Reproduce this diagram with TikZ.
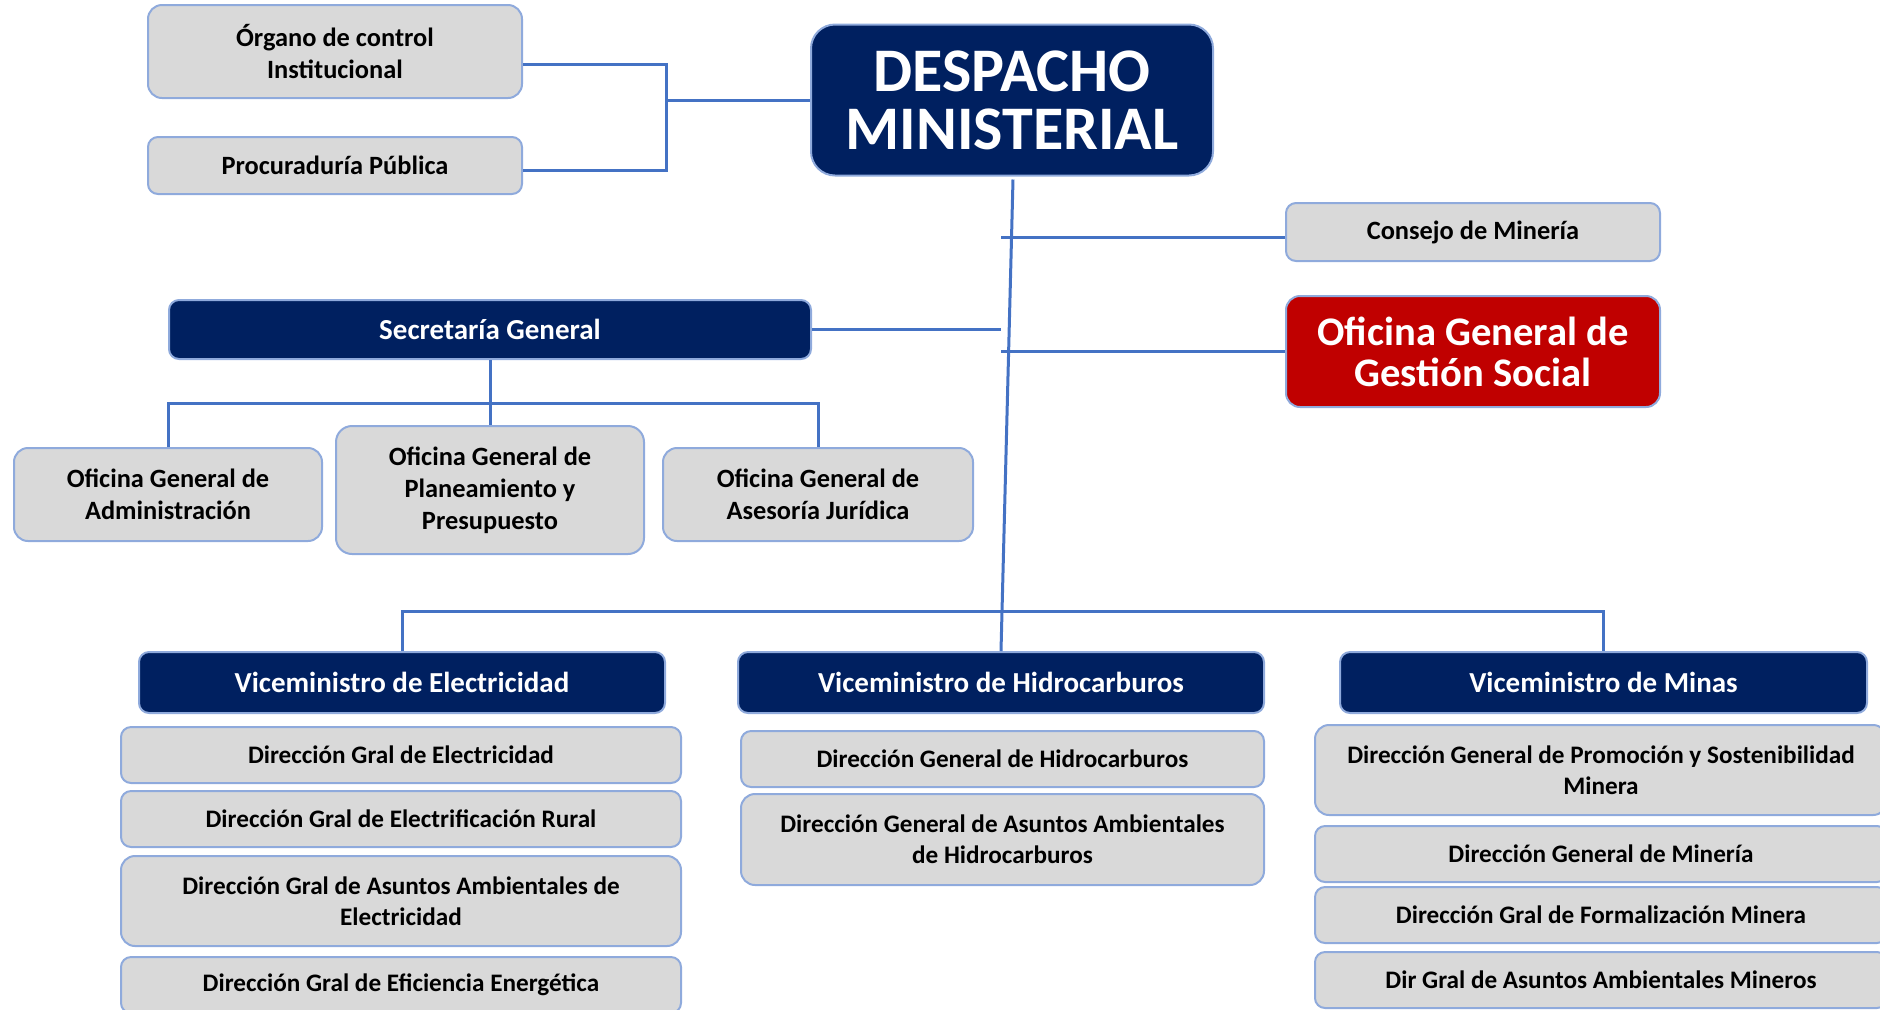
\documentclass[tikz,border=0pt]{standalone}
\usepackage{fontspec}
\setmainfont{Carlito}
\usetikzlibrary{positioning}
\definecolor{mnavy}{HTML}{002060}
\definecolor{mred}{HTML}{C00000}
\definecolor{mgray}{HTML}{D9D9D9}
\definecolor{medge}{HTML}{8FAADC}
\definecolor{mblue}{HTML}{4472C4}
\tikzset{box/.style = {draw=medge, line width=1pt, fill=mgray, rounded corners=5pt,
                       align=center, inner sep=0,
                       font=\bfseries\fontsize{12.6}{15.5}\selectfont}}
\tikzset{upbox/.style = {box, font=\bfseries\fontsize{13.2}{16}\selectfont}}
\tikzset{head/.style = {box, fill=mnavy, text=white,
                        font=\bfseries\fontsize{14.5}{17}\selectfont}}
\tikzset{conn/.style = {draw=mblue, line width=1.5pt}}
\begin{document}
\begin{tikzpicture}[x=0.5pt, y=-0.5pt]
      \useasboundingbox (0, 0) rectangle (1880, 1009);

      \node [head, rounded corners=12pt, minimum width=201pt, minimum height=75.5pt,
             font=\bfseries\fontsize{31}{29}\selectfont] (desp) at (1012, 100) {DESPACHO\\MINISTERIAL};
      \node [upbox, rounded corners=7pt, minimum width=187pt, minimum height=46.5pt] (organo) at (335, 51.5) {Órgano de control\\Institucional};
      \node [upbox, minimum width=187pt, minimum height=28.5pt] (procu) at (335, 165.5) {Procuraduría Pública};
      \node [upbox, minimum width=187pt, minimum height=29pt] (consejo) at (1473, 232) {Consejo de Minería};
      \node [head, fill=mred, rounded corners=7pt, minimum width=187pt, minimum height=55.5pt,
             font=\bfseries\fontsize{20.3}{20.5}\selectfont] (social) at (1473, 351.5) {Oficina General de\\Gestión Social};

      \node [head, minimum width=321pt, minimum height=29.5pt] (secre) at (490, 329.5) {Secretaría General};
      \node [upbox, rounded corners=7pt, minimum width=154pt, minimum height=46.5pt] (admin) at (168, 494.5) {Oficina General de\\Administración};
      \node [upbox, rounded corners=8pt, minimum width=154pt, minimum height=64pt] (plan) at (490, 490) {Oficina General de\\Planeamiento y\\Presupuesto};
      \node [upbox, rounded corners=7pt, minimum width=155pt, minimum height=46.5pt] (jur) at (818, 494.5) {Oficina General de\\Asesoría Jurídica};

      \node [head, minimum width=263pt, minimum height=30.5pt] (ve) at (402, 682.5) {Viceministro de Electricidad};
      \node [head, minimum width=263pt, minimum height=30.5pt] (vh) at (1001, 682.5) {Viceministro de Hidrocarburos};
      \node [head, minimum width=263.5pt, minimum height=30.5pt] (vm) at (1603.5, 682.5) {Viceministro de Minas};

      \node [box, minimum width=280pt, minimum height=28pt] (e1) at (401, 755) {Dirección Gral de Electricidad};
      \node [box, minimum width=280pt, minimum height=28pt] (e2) at (401, 819) {Dirección Gral de Electrificación Rural};
      \node [box, rounded corners=7pt, minimum width=280pt, minimum height=45pt] (e3) at (401, 901) {Dirección Gral de Asuntos Ambientales de\\Electricidad};
      \node [box, minimum width=280pt, minimum height=28pt] (e4) at (401, 985) {Dirección Gral de Eficiencia Energética};

      \node [box, minimum width=261.5pt, minimum height=28pt] (h1) at (1002.5, 759) {Dirección General de Hidrocarburos};
      \node [box, rounded corners=7pt, minimum width=261.5pt, minimum height=45.5pt] (h2) at (1002.5, 839.5) {Dirección General de Asuntos Ambientales\\de Hidrocarburos};

      \node [box, rounded corners=7pt, minimum width=286pt, minimum height=45pt] (m1) at (1601, 770) {Dirección General de Promoción y Sostenibilidad\\Minera};
      \node [box, minimum width=286pt, minimum height=28pt] (m2) at (1601, 854) {Dirección General de Minería};
      \node [box, minimum width=286pt, minimum height=28pt] (m3) at (1601, 915) {Dirección Gral de Formalización Minera};
      \node [box, minimum width=286pt, minimum height=28pt] (m4) at (1601, 980) {Dir Gral de Asuntos Ambientales Mineros};

      \coordinate (jp) at (666, 100);
      \coordinate (sp) at (1001, 237);
      \coordinate (bs) at (490, 403);
      \coordinate (bv) at (1002, 611);

      \draw [conn] ([yshift=-6.25pt]organo.east) -| (jp) |- ([yshift=-2.25pt]procu.east);
      \draw [conn] (jp) -- (desp.west);
      \draw [conn] ([xshift=0.5pt, yshift=-1.5pt]desp.south) -- (vh.north);
      \draw [conn] (sp) -- (sp -| consejo.west);
      \draw [conn] (social.west) -- (social.west -| sp);
      \draw [conn] (secre.east) -- (secre.east -| sp);
      \draw [conn] (secre.south) -- (plan.north);
      \draw [conn] (admin.north) |- (bs) -| (jur.north);
      \draw [conn] (ve.north) |- (bv) -| (vm.north);
    \end{tikzpicture}
\end{document}
